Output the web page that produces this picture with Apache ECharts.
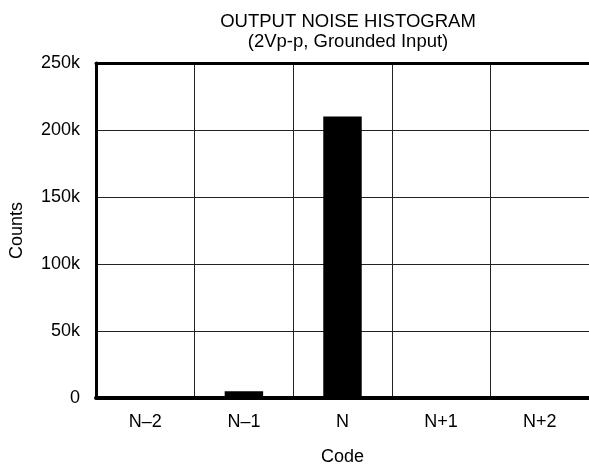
<!DOCTYPE html>
<html><head><meta charset="utf-8">
<script src="https://cdn.jsdelivr.net/npm/echarts@6/dist/echarts.min.js"></script>
<style>html,body{margin:0;padding:0;background:#fff;overflow:hidden}#c{width:589px;height:471px}</style>
</head><body><div id="c"></div>
<script>
const categories = ['N\u20132', 'N\u20131', 'N', 'N+1', 'N+2'];
const counts = [0, 5000, 210000, 0, 0];
const yTicks = [0, 50000, 100000, 150000, 200000, 250000];

const font = 'Liberation Sans, Arial, sans-serif';
const chart = echarts.init(document.getElementById('c'));
chart.setOption({
  animation: false,
  backgroundColor: '#fff',
  title: {
    text: 'OUTPUT NOISE HISTOGRAM',
    subtext: '(2Vp-p, Grounded Input)',
    left: 343, top: 7, textAlign: 'center', itemGap: 0,
    textStyle: {fontFamily: font, fontSize: 18.5, fontWeight: 'normal', color: '#000', lineHeight: 20},
    subtextStyle: {fontFamily: font, fontSize: 18.5, color: '#000', lineHeight: 20}
  },
  grid: {left: 95, width: 497, top: 63, bottom: 73, show: false},
  xAxis: [{
    type: 'category', data: categories, boundaryGap: true,
    name: 'Code', nameLocation: 'middle', nameGap: 50,
    nameTextStyle: {fontFamily: font, fontSize: 18, color: '#000'},
    axisLine: {lineStyle: {color: '#000', width: 4}},
    axisTick: {show: false},
    axisLabel: {fontFamily: font, fontSize: 18, color: '#000', margin: 15},
    splitLine: {show: true, lineStyle: {color: '#222', width: 1}}
  }, {
    type: 'category', data: categories, position: 'top',
    axisLine: {show: true, lineStyle: {color: '#000', width: 3}},
    axisTick: {show: false}, axisLabel: {show: false}, splitLine: {show: false}
  }],
  yAxis: {
    type: 'value', min: yTicks[0], max: yTicks[yTicks.length - 1], interval: 50000,
    name: 'Counts', nameLocation: 'middle', nameGap: 70,
    nameTextStyle: {fontFamily: font, fontSize: 18, color: '#000'},
    axisLine: {show: true, lineStyle: {color: '#000', width: 3}},
    axisTick: {show: false},
    axisLabel: {fontFamily: font, fontSize: 18, color: '#000', margin: 16,
      formatter: v => v === 0 ? '0' : (v / 1000) + 'k'},
    splitLine: {show: true, lineStyle: {color: '#222', width: 1}}
  },
  series: [{
    type: 'bar', data: counts, barWidth: '39%', xAxisIndex: 0,
    itemStyle: {color: '#000'}
  }]
});
</script></body></html>
